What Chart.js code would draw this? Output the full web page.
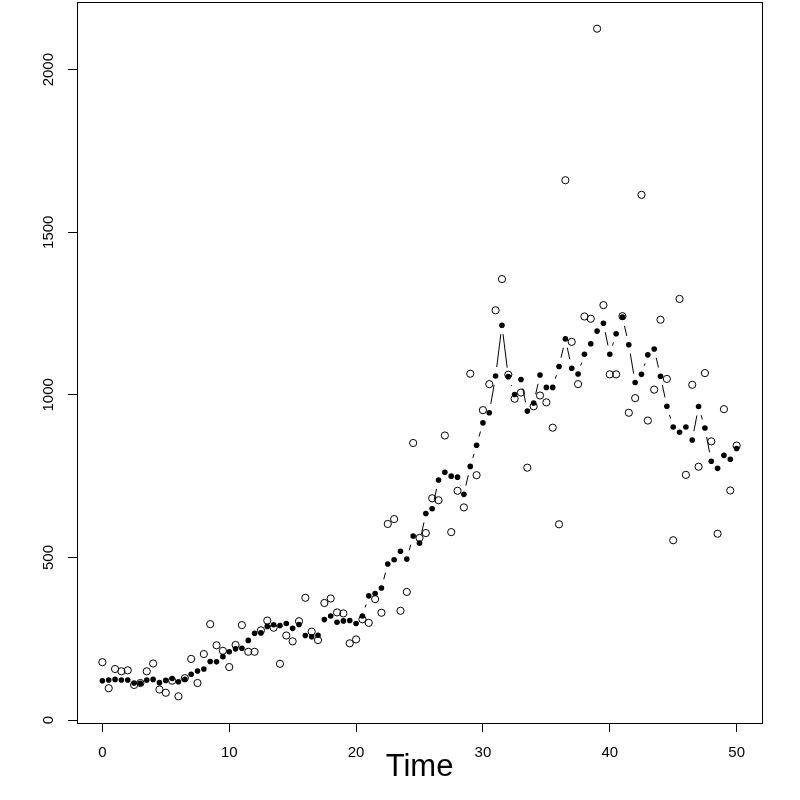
<!DOCTYPE html>
<html><head><meta charset="utf-8">
<script src="https://cdn.jsdelivr.net/npm/chart.js@4/dist/chart.umd.min.js"></script>
<style>html,body{margin:0;padding:0;background:#fff}</style>
</head><body>
<canvas id="c" width="800" height="800"></canvas>
<script>
const times = [0,0.5,1,1.5,2,2.5,3,3.5,4,4.5,5,5.5,6,6.5,7,7.5,8,8.5,9,9.5,
  10,10.5,11,11.5,12,12.5,13,13.5,14,14.5,15,15.5,16,16.5,17,17.5,18,18.5,19,19.5,
  20,20.5,21,21.5,22,22.5,23,23.5,24,24.5,25,25.5,26,26.5,27,27.5,28,28.5,29,29.5,
  30,30.5,31,31.5,32,32.5,33,33.5,34,34.5,35,35.5,36,36.5,37,37.5,38,38.5,39,39.5,
  40,40.5,41,41.5,42,42.5,43,43.5,44,44.5,45,45.5,46,46.5,47,47.5,48,48.5,49,49.5,50];
const observed = [178,98,157,150,153,108,114,150,174,94,84,121,73,129,188,114,203,295,230,213,
  163,231,292,210,210,276,306,284,173,260,242,304,376,272,246,360,374,331,328,236,
  248,310,299,372,330,603,618,336,394,852,560,575,682,676,875,578,705,654,1065,753,
  953,1033,1260,1356,1062,988,1007,776,965,998,977,899,602,1660,1163,1033,1241,1234,2126,1276,
  1063,1063,1242,945,990,1615,921,1016,1231,1049,553,1295,754,1031,779,1067,857,573,956,706,844];
const fitted = [121,123,125,123,123,114,113,123,125,115,122,128,118,125,141,151,157,180,179,195,
  210,219,221,245,267,268,288,293,291,297,282,294,260,256,261,309,320,301,305,306,
  297,320,382,389,406,480,493,519,495,566,544,635,650,738,762,750,747,694,780,845,
  914,945,1058,1214,1056,1001,1047,950,975,1061,1023,1023,1087,1172,1082,1064,1125,1157,1196,1220,
  1125,1188,1239,1154,1038,1063,1123,1141,1057,965,901,885,901,861,964,898,796,774,814,802,835];
const xTicks = [0,10,20,30,40,50];
const yTicks = [0,500,1000,1500,2000];
const xLabel = 'Time';

const FONT = '"Liberation Sans", Arial, Helvetica, sans-serif';

const gapLines = {
  id: 'gapLines',
  afterDatasetsDraw(chart) {
    const meta = chart.getDatasetMeta(0);
    const ctx = chart.ctx, g = 9;
    ctx.save();
    ctx.strokeStyle = '#000'; ctx.lineWidth = 1;
    ctx.beginPath();
    for (let i = 0; i < meta.data.length - 1; i++) {
      const a = meta.data[i], b = meta.data[i + 1];
      const dx = b.x - a.x, dy = b.y - a.y, d = Math.hypot(dx, dy);
      if (d > 2 * g) {
        const ux = dx / d, uy = dy / d;
        ctx.moveTo(a.x + ux * g, a.y + uy * g);
        ctx.lineTo(b.x - ux * g, b.y - uy * g);
      }
    }
    ctx.stroke();
    ctx.restore();
  }
};

const frame = {
  id: 'frame',
  afterDraw(chart) {
    const ctx = chart.ctx, a = chart.chartArea, ys = chart.scales.y;
    ctx.save();
    ctx.strokeStyle = '#000'; ctx.lineWidth = 1;
    ctx.strokeRect(Math.round(a.left) + 0.5, Math.round(a.top) + 0.5,
      Math.round(a.right - a.left), Math.round(a.bottom - a.top));
    ctx.fillStyle = '#000';
    ctx.font = '15px ' + FONT;
    ctx.textAlign = 'center'; ctx.textBaseline = 'middle';
    yTicks.forEach(v => {
      const py = ys.getPixelForValue(v);
      ctx.save();
      ctx.translate(ys.right - 28, py);
      ctx.rotate(-Math.PI / 2);
      ctx.fillText(String(v), 0, 0);
      ctx.restore();
    });
    ctx.restore();
  }
};

new Chart(document.getElementById('c'), {
  type: 'scatter',
  data: {
    datasets: [
      {
        label: 'fitted',
        data: times.map((t, i) => ({x: t, y: fitted[i]})),
        pointRadius: 2.8,
        pointBackgroundColor: '#000',
        pointBorderColor: '#000',
        pointBorderWidth: 0,
        showLine: false
      },
      {
        label: 'observed',
        data: times.map((t, i) => ({x: t, y: observed[i]})),
        pointRadius: 3.6,
        pointBackgroundColor: 'rgba(0,0,0,0)',
        pointBorderColor: '#000',
        pointBorderWidth: 1,
        showLine: false
      }
    ]
  },
  options: {
    responsive: false,
    animation: false,
    events: [],
    layout: {autoPadding: false, padding: {top: 2, right: 38, left: 0, bottom: 0}},
    plugins: {legend: {display: false}, tooltip: {enabled: false}},
    scales: {
      x: {
        type: 'linear', min: -2, max: 52,
        afterBuildTicks: s => { s.ticks = xTicks.map(v => ({value: v})); },
        afterFit: s => { s.height = 77; },
        ticks: {color: '#000', font: {family: FONT, size: 15}, padding: 12},
        grid: {display: true, drawOnChartArea: false, drawTicks: true, tickLength: 9, color: '#000', lineWidth: 1},
        border: {display: true, color: '#000', width: 1},
        title: {display: true, text: xLabel, color: '#000', font: {family: FONT, size: 31}, padding: {top: 0, bottom: 14}}
      },
      y: {
        type: 'linear', min: -9, max: 2208,
        afterBuildTicks: s => { s.ticks = yTicks.map(v => ({value: v})); },
        afterFit: s => { s.width = 77; },
        ticks: {display: false},
        grid: {display: true, drawOnChartArea: false, drawTicks: true, tickLength: 9, color: '#000', lineWidth: 1},
        border: {display: true, color: '#000', width: 1}
      }
    }
  },
  plugins: [gapLines, frame]
});
</script>
</body></html>
